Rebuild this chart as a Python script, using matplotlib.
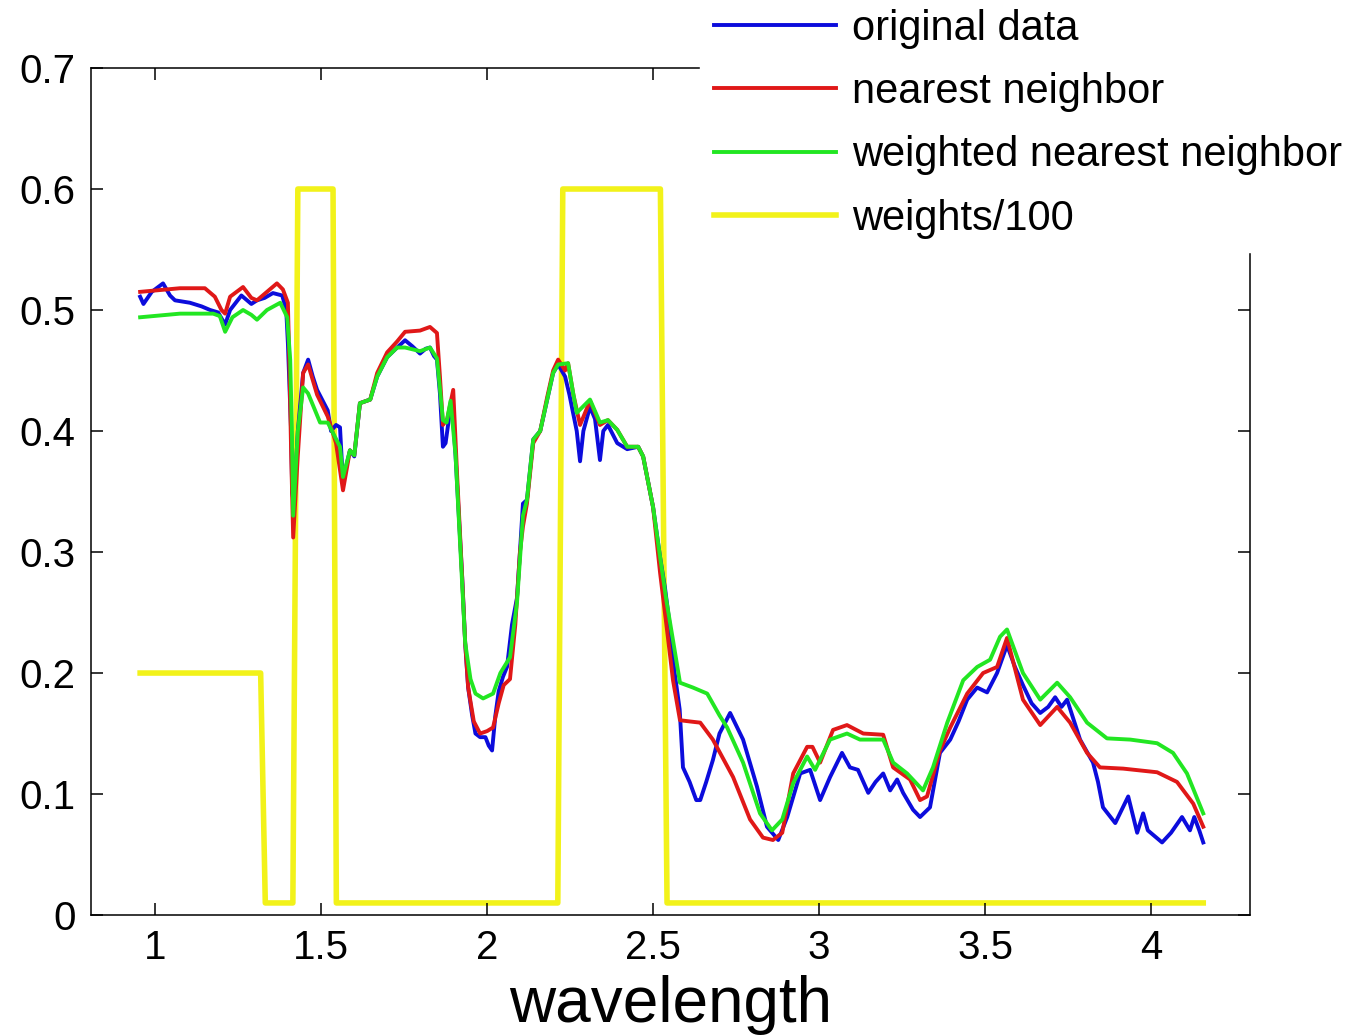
import numpy as np
import matplotlib
matplotlib.use("Agg")
import matplotlib.pyplot as plt

plt.rcParams['font.family'] = ['Liberation Sans', 'DejaVu Sans']

# original data
wl_orig = [0.955, 0.965, 0.99, 1.024, 1.045, 1.06, 1.105, 1.14, 1.166, 1.19, 1.211, 1.226,
           1.26, 1.29, 1.307, 1.33, 1.355, 1.383, 1.395, 1.40, 1.405, 1.41, 1.413, 1.418,
           1.43, 1.446, 1.461, 1.475, 1.488, 1.505, 1.52, 1.53, 1.545, 1.557, 1.566, 1.575,
           1.587, 1.60, 1.617, 1.648, 1.669, 1.699, 1.729, 1.753, 1.775, 1.798, 1.815, 1.828,
           1.84, 1.849, 1.858, 1.867, 1.875, 1.885, 1.895, 1.905, 1.915, 1.925, 1.934, 1.943,
           1.955, 1.965, 1.979, 1.995, 2.005, 2.015, 2.025, 2.035, 2.048, 2.06, 2.075, 2.09,
           2.099, 2.108, 2.12, 2.139, 2.16, 2.181, 2.199, 2.214, 2.235, 2.248, 2.259, 2.27,
           2.28, 2.29, 2.31, 2.325, 2.34, 2.35, 2.364, 2.392, 2.422, 2.455, 2.47, 2.5,
           2.521, 2.536, 2.55, 2.565, 2.58, 2.59, 2.61, 2.63, 2.642, 2.66, 2.68, 2.70,
           2.732, 2.771, 2.813, 2.843, 2.877, 2.904, 2.943, 2.973, 3.003, 3.033, 3.069, 3.093,
           3.117, 3.148, 3.17, 3.193, 3.214, 3.235, 3.253, 3.283, 3.304, 3.334, 3.364, 3.395,
           3.42, 3.446, 3.476, 3.506, 3.536, 3.566, 3.59, 3.614, 3.64, 3.666, 3.69, 3.711,
           3.73, 3.747, 3.786, 3.825, 3.84, 3.855, 3.892, 3.931, 3.958, 3.976, 3.99, 4.033,
           4.06, 4.093, 4.117, 4.13, 4.145, 4.157]
orig = [0.511, 0.505, 0.515, 0.522, 0.512, 0.508, 0.506, 0.503, 0.500, 0.498, 0.488, 0.500,
        0.512, 0.505, 0.508, 0.510, 0.514, 0.512, 0.500, 0.473, 0.436, 0.398, 0.349, 0.340,
        0.400, 0.448, 0.459, 0.445, 0.434, 0.425, 0.417, 0.400, 0.405, 0.403, 0.357, 0.370,
        0.384, 0.379, 0.423, 0.426, 0.445, 0.461, 0.469, 0.475, 0.470, 0.464, 0.468, 0.469,
        0.462, 0.459, 0.431, 0.387, 0.390, 0.410, 0.420, 0.380, 0.330, 0.279, 0.225, 0.188,
        0.165, 0.150, 0.147, 0.147, 0.140, 0.136, 0.165, 0.185, 0.197, 0.205, 0.240, 0.262,
        0.300, 0.340, 0.343, 0.393, 0.400, 0.426, 0.448, 0.455, 0.445, 0.430, 0.415, 0.400,
        0.375, 0.400, 0.420, 0.410, 0.376, 0.400, 0.405, 0.390, 0.385, 0.387, 0.379, 0.337,
        0.296, 0.270, 0.240, 0.200, 0.170, 0.122, 0.110, 0.095, 0.095, 0.110, 0.128, 0.150,
        0.167, 0.145, 0.106, 0.073, 0.062, 0.081, 0.117, 0.120, 0.095, 0.114, 0.134, 0.122,
        0.120, 0.101, 0.110, 0.117, 0.103, 0.112, 0.101, 0.087, 0.081, 0.089, 0.134, 0.145,
        0.160, 0.178, 0.188, 0.184, 0.200, 0.223, 0.205, 0.190, 0.175, 0.167, 0.172, 0.180,
        0.172, 0.178, 0.145, 0.126, 0.110, 0.089, 0.076, 0.098, 0.068, 0.084, 0.070, 0.060,
        0.068, 0.081, 0.070, 0.081, 0.070, 0.060]

# nearest neighbor
wl_nn = [0.955, 1.075, 1.15, 1.18, 1.20, 1.211, 1.226, 1.265, 1.29, 1.307, 1.337, 1.367,
         1.385, 1.40, 1.405, 1.41, 1.416, 1.43, 1.446, 1.461, 1.488, 1.52, 1.545, 1.566,
         1.587, 1.60, 1.617, 1.648, 1.669, 1.699, 1.729, 1.753, 1.798, 1.828, 1.849, 1.858,
         1.867, 1.88, 1.898, 1.91, 1.925, 1.934, 1.943, 1.96, 1.979, 2.0, 2.018, 2.035,
         2.05, 2.069, 2.085, 2.099, 2.108, 2.12, 2.139, 2.16, 2.181, 2.199, 2.214, 2.235,
         2.244, 2.26, 2.28, 2.31, 2.34, 2.364, 2.392, 2.422, 2.455, 2.47, 2.5, 2.521,
         2.54, 2.56, 2.581, 2.61, 2.642, 2.68, 2.741, 2.792, 2.831, 2.861, 2.889, 2.922,
         2.964, 2.98, 3.003, 3.042, 3.084, 3.133, 3.193, 3.223, 3.274, 3.304, 3.325, 3.364,
         3.395, 3.446, 3.494, 3.536, 3.566, 3.614, 3.666, 3.717, 3.756, 3.807, 3.846, 3.916,
         4.018, 4.078, 4.127, 4.157]
nn = [0.515, 0.518, 0.518, 0.511, 0.500, 0.497, 0.511, 0.519, 0.510, 0.508, 0.515, 0.522,
      0.517, 0.506, 0.450, 0.380, 0.312, 0.380, 0.448, 0.455, 0.430, 0.412, 0.390, 0.351,
      0.384, 0.380, 0.423, 0.426, 0.448, 0.465, 0.474, 0.482, 0.483, 0.486, 0.481, 0.445,
      0.405, 0.410, 0.434, 0.362, 0.279, 0.225, 0.188, 0.160, 0.150, 0.152, 0.155, 0.175,
      0.190, 0.195, 0.240, 0.300, 0.321, 0.340, 0.390, 0.400, 0.428, 0.450, 0.459, 0.450,
      0.456, 0.430, 0.405, 0.425, 0.405, 0.409, 0.401, 0.387, 0.387, 0.379, 0.337, 0.283,
      0.240, 0.194, 0.161, 0.160, 0.159, 0.145, 0.114, 0.079, 0.064, 0.062, 0.068, 0.117,
      0.139, 0.139, 0.126, 0.153, 0.157, 0.150, 0.149, 0.122, 0.112, 0.095, 0.098, 0.136,
      0.155, 0.183, 0.200, 0.205, 0.229, 0.178, 0.157, 0.172, 0.159, 0.134, 0.122, 0.121,
      0.118, 0.110, 0.092, 0.073]

# weighted nearest neighbor
wl_wnn = [0.955, 1.075, 1.175, 1.195, 1.211, 1.233, 1.265, 1.29, 1.307, 1.337, 1.377, 1.398,
          1.407, 1.412, 1.416, 1.43, 1.446, 1.461, 1.497, 1.52, 1.557, 1.566, 1.587, 1.60,
          1.617, 1.648, 1.669, 1.699, 1.729, 1.753, 1.798, 1.828, 1.849, 1.858, 1.867, 1.878,
          1.89, 1.905, 1.92, 1.934, 1.95, 1.965, 1.988, 2.018, 2.04, 2.069, 2.09, 2.108,
          2.12, 2.139, 2.16, 2.181, 2.199, 2.214, 2.244, 2.26, 2.27, 2.31, 2.34, 2.364,
          2.392, 2.422, 2.455, 2.47, 2.5, 2.521, 2.54, 2.56, 2.581, 2.62, 2.663, 2.70,
          2.723, 2.771, 2.822, 2.858, 2.889, 2.922, 2.964, 2.988, 3.033, 3.084, 3.123, 3.193,
          3.223, 3.265, 3.313, 3.343, 3.386, 3.434, 3.476, 3.515, 3.545, 3.566, 3.614, 3.666,
          3.717, 3.756, 3.807, 3.867, 3.937, 4.018, 4.066, 4.108, 4.157]
wnn = [0.494, 0.497, 0.497, 0.495, 0.482, 0.494, 0.500, 0.496, 0.492, 0.500, 0.506, 0.494,
       0.459, 0.403, 0.330, 0.400, 0.436, 0.431, 0.407, 0.407, 0.387, 0.362, 0.384, 0.380,
       0.423, 0.426, 0.445, 0.461, 0.469, 0.469, 0.466, 0.469, 0.460, 0.435, 0.409, 0.407,
       0.425, 0.380, 0.300, 0.225, 0.195, 0.183, 0.179, 0.183, 0.200, 0.213, 0.258, 0.330,
       0.343, 0.393, 0.400, 0.426, 0.448, 0.455, 0.456, 0.430, 0.415, 0.426, 0.407, 0.409,
       0.401, 0.387, 0.387, 0.379, 0.337, 0.296, 0.260, 0.227, 0.192, 0.188, 0.183, 0.165,
       0.155, 0.126, 0.084, 0.070, 0.079, 0.109, 0.131, 0.120, 0.145, 0.150, 0.145, 0.145,
       0.126, 0.117, 0.103, 0.122, 0.159, 0.194, 0.205, 0.211, 0.230, 0.236, 0.200, 0.178,
       0.192, 0.180, 0.159, 0.146, 0.145, 0.142, 0.134, 0.117, 0.084]

# weights / 100 (step profile)
wl_w = [0.955, 1.318, 1.332, 1.415, 1.43, 1.536, 1.546, 2.213, 2.228, 2.522, 2.542, 4.157]
weights = [0.2, 0.2, 0.01, 0.01, 0.6, 0.6, 0.01, 0.01, 0.6, 0.6, 0.01, 0.01]

fig = plt.figure(figsize=(13.52, 10.35), dpi=100)
ax = fig.add_axes([0.0673, 0.1159, 0.8573, 0.8184])

# colores estilo MATLAB
c_blue = '#0c0cdc'
c_red = '#e01818'
c_green = '#22e622'
c_yellow = '#f2f21a'

ax.plot(wl_w, weights, color=c_yellow, lw=4.0, zorder=1)
l1, = ax.plot(wl_orig, orig, color=c_blue, lw=2.8, zorder=2)
l2, = ax.plot(wl_nn, nn, color=c_red, lw=2.8, zorder=3)
l3, = ax.plot(wl_wnn, wnn, color=c_green, lw=2.8, zorder=4)
l4, = ax.plot([], [], color=c_yellow, lw=4.0)

ax.set_xlim(0.807, 4.298)
ax.set_ylim(0, 0.7)
ax.set_xticks([1, 1.5, 2, 2.5, 3, 3.5, 4])
ax.set_xticklabels(['1', '1.5', '2', '2.5', '3', '3.5', '4'])
ax.set_yticks([0, 0.1, 0.2, 0.3, 0.4, 0.5, 0.6, 0.7])
ax.set_yticklabels(['0', '0.1', '0.2', '0.3', '0.4', '0.5', '0.6', '0.7'])
ax.tick_params(direction='in', length=8.5, width=1.1, top=True, right=True,
               labelsize=29, pad=10)
ax.tick_params(axis='y', pad=11)
for s in ax.spines.values():
    s.set_linewidth(1.1)

ax.set_xlabel('wavelength', fontsize=46, labelpad=6)

# la leyenda tapa la esquina superior derecha del eje
leg = fig.legend([l1, l2, l3, l4],
                 ['original data', 'nearest neighbor', 'weighted nearest neighbor', 'weights/100'],
                 loc='upper left', bbox_to_anchor=(700 / 1352, 1.0049),
                 fontsize=30, frameon=True, facecolor='white', edgecolor='white',
                 framealpha=1.0, fancybox=False, borderpad=0.33, borderaxespad=0,
                 handlelength=2.93, handletextpad=0.4, labelspacing=0.56)
leg.set_zorder(10)

plt.savefig('out.png', dpi=100, facecolor='white')
plt.close()
